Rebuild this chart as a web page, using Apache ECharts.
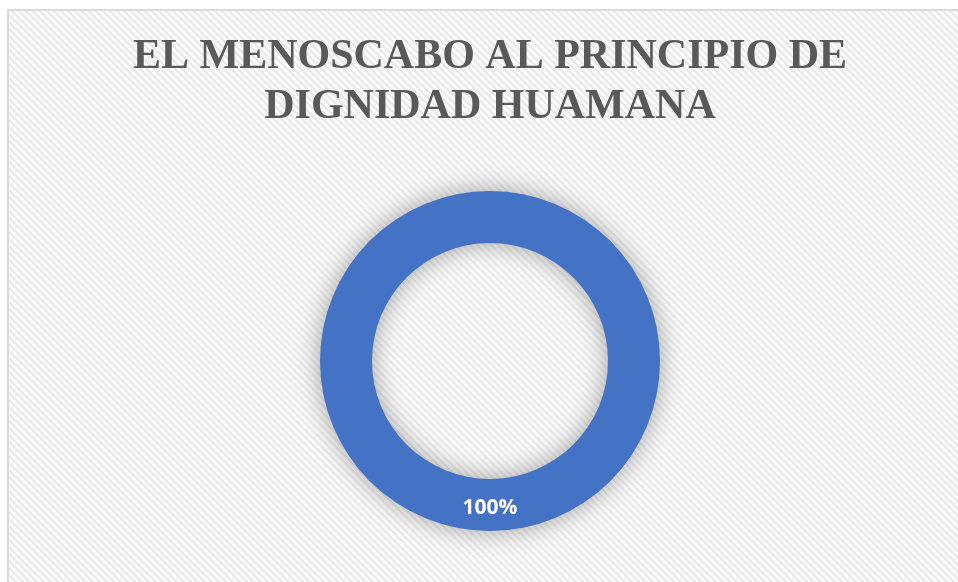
<!DOCTYPE html>
<html>
<head>
<meta charset="utf-8">
<script src="https://cdn.jsdelivr.net/npm/echarts@6/dist/echarts.min.js"></script>
<style>
  html, body { margin: 0; padding: 0; background: #fff; }
  #chart { width: 958px; height: 582px; }
</style>
</head>
<body>
<div id="chart"></div>
<script>
// datos del gráfico
const titleLines = ['EL MENOSCABO AL PRINCIPIO DE', 'DIGNIDAD HUAMANA'];
const categories = ['Sí'];
const values = [100];

// fondo rayado diagonal (estilo Excel)
function makeStripes() {
  const p = 7;
  const c = document.createElement('canvas');
  c.width = p;
  c.height = p;
  const ctx = c.getContext('2d');
  const img = ctx.createImageData(p, p);
  for (let y = 0; y < p; y++) {
    for (let x = 0; x < p; x++) {
      const d = ((x - y) % p + p) % p;
      const v = d < 3 ? 233 : 249;
      const i = (y * p + x) * 4;
      img.data[i] = v;
      img.data[i + 1] = v;
      img.data[i + 2] = v;
      img.data[i + 3] = 255;
    }
  }
  ctx.putImageData(img, 0, 0);
  return c;
}

const chart = echarts.init(document.getElementById('chart'));

const option = {
  animation: false,
  backgroundColor: '#fff',
  graphic: [
    {
      type: 'rect',
      z: -10,
      shape: { x: 8, y: 10, width: 1000, height: 620 },
      style: {
        fill: { image: makeStripes(), repeat: 'repeat' },
        stroke: '#d9d9d9',
        lineWidth: 2
      }
    }
  ],
  title: {
    text: titleLines.join('\n'),
    left: 490,
    top: 32,
    padding: 0,
    textAlign: 'center',
    textStyle: {
      fontFamily: 'Liberation Serif',
      fontWeight: 'bold',
      fontSize: 42,
      lineHeight: 50,
      color: '#595959'
    }
  },
  series: [
    {
      type: 'pie',
      center: [490, 361],
      radius: [118, 170],
      startAngle: 90,
      silent: true,
      itemStyle: {
        color: '#4472c4',
        shadowBlur: 24,
        shadowColor: 'rgba(0, 0, 0, 0.35)'
      },
      label: {
        show: true,
        position: 'inside',
        formatter: '{d}%',
        color: '#fff',
        fontFamily: 'Open Sans',
        fontWeight: 'bold',
        fontSize: 21
      },
      labelLine: { show: false },
      data: categories.map((name, i) => ({ name: name, value: values[i] }))
    }
  ]
};

chart.setOption(option);
</script>
</body>
</html>
